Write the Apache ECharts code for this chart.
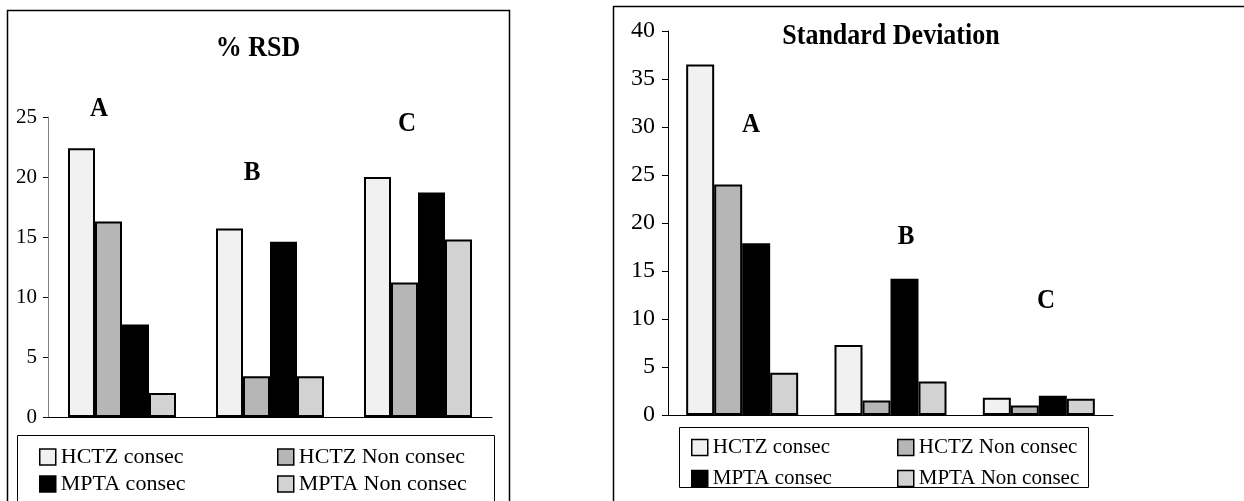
<!DOCTYPE html>
<html>
<head>
<meta charset="utf-8">
<script src="https://cdn.jsdelivr.net/npm/echarts@6/dist/echarts.min.js"></script>
<style>html,body{margin:0;padding:0;background:#fff}#c{width:1244px;height:501px}</style>
</head>
<body>
<div id="c"></div>
<script>
const categories = ['A', 'B', 'C'];
const seriesNames = ['HCTZ consec', 'HCTZ Non consec', 'MPTA consec', 'MPTA Non consec'];
const rsdHCTZConsec = [22.4, 15.7, 20.0];
const rsdHCTZNonConsec = [16.3, 3.4, 11.2];
const rsdMPTAConsec = [7.7, 14.6, 18.7];
const rsdMPTANonConsec = [2.0, 3.4, 14.8];
const sdHCTZConsec = [36.5, 7.3, 1.8];
const sdHCTZNonConsec = [24.0, 1.5, 1.0];
const sdMPTAConsec = [17.9, 14.2, 2.0];
const sdMPTANonConsec = [4.4, 3.5, 1.7];
const rsdTicks = [0, 5, 10, 15, 20, 25];
const sdTicks = [0, 5, 10, 15, 20, 25, 30, 35, 40];

const FONT = '"Liberation Serif", "DejaVu Serif", serif';
const fills = ['#f1f1f1', '#b6b6b6', '#000000', '#d2d2d2'];
const rsdData = [rsdHCTZConsec, rsdHCTZNonConsec, rsdMPTAConsec, rsdMPTANonConsec];
const sdData = [sdHCTZConsec, sdHCTZNonConsec, sdMPTAConsec, sdMPTANonConsec];

const chart = echarts.init(document.getElementById('c'), null, {renderer: 'canvas'});

function mkSeries(dataArr, gi, bw) {
  return dataArr.map((d, i) => ({
    name: seriesNames[i], type: 'bar', xAxisIndex: gi, yAxisIndex: gi,
    data: d, barWidth: bw, barGap: '0%',
    itemStyle: {color: fills[i], borderColor: '#000', borderWidth: 2},
    emphasis: {disabled: true}
  }));
}

function mkLegend(name, left, top, size) {
  return {
    data: [name], left: left, top: top, padding: 0, itemWidth: 16, itemHeight: 16,
    icon: 'rect', selectedMode: false,
    itemStyle: {borderColor: '#000', borderWidth: 1.5},
    textStyle: {fontFamily: FONT, fontSize: size, color: '#000'}
  };
}

function txt(s, x, y, size) {
  return {type: 'text', x: x, y: y, scaleY: 1.12, originX: 0, originY: 0,
    style: {text: s, fontFamily: FONT, fontWeight: 'bold', fontSize: size, fill: '#000', align: 'center', verticalAlign: 'middle'}};
}

const yLabelFmt = (ticks) => (v) => (ticks.indexOf(v) >= 0 ? String(v) : '');

const option = {
  animation: false,
  grid: [
    {left: 48, width: 444, top: 117, height: 300},
    {left: 668, width: 445, top: 31, height: 384}
  ],
  xAxis: [
    {gridIndex: 0, type: 'category', data: categories, axisLabel: {show: false},
     axisLine: {lineStyle: {color: '#000', width: 1}}, axisTick: {length: 7, lineStyle: {color: '#000'}}},
    {gridIndex: 1, type: 'category', data: categories, axisLabel: {show: false},
     axisLine: {lineStyle: {color: '#000', width: 1}}, axisTick: {length: 7, lineStyle: {color: '#000'}}}
  ],
  yAxis: [
    {gridIndex: 0, type: 'value', min: rsdTicks[0], max: rsdTicks[rsdTicks.length - 1], interval: 5,
     splitLine: {show: false}, axisLine: {show: true, lineStyle: {color: '#808080'}},
     axisTick: {show: true, length: 5, lineStyle: {color: '#000'}},
     axisLabel: {fontFamily: FONT, fontSize: 21, color: '#000', margin: 11, formatter: yLabelFmt(rsdTicks)}},
    {gridIndex: 1, type: 'value', min: sdTicks[0], max: sdTicks[sdTicks.length - 1], interval: 5,
     splitLine: {show: false}, axisLine: {show: true, lineStyle: {color: '#000'}},
     axisTick: {show: true, length: 6, lineStyle: {color: '#000'}},
     axisLabel: {fontFamily: FONT, fontSize: 24, color: '#000', margin: 13, formatter: yLabelFmt(sdTicks)}}
  ],
  legend: [
    mkLegend(seriesNames[0], 39, 446, 22),
    mkLegend(seriesNames[1], 277, 446, 22),
    mkLegend(seriesNames[2], 39, 473, 22),
    mkLegend(seriesNames[3], 277, 473, 22),
    mkLegend(seriesNames[0], 691, 437, 21),
    mkLegend(seriesNames[1], 897, 437, 21),
    mkLegend(seriesNames[2], 691, 468, 21),
    mkLegend(seriesNames[3], 897, 468, 21)
  ],
  graphic: [
    {type: 'rect', shape: {x: 7.5, y: 10.5, width: 502, height: 520}, style: {fill: 'none', stroke: '#000', lineWidth: 1.5}, z: -1},
    {type: 'rect', shape: {x: 613.5, y: 6.5, width: 660, height: 520}, style: {fill: 'none', stroke: '#000', lineWidth: 1.5}, z: -1},
    {type: 'rect', shape: {x: 17.5, y: 435.5, width: 477, height: 100}, style: {fill: 'none', stroke: '#000', lineWidth: 1}, z: -1},
    {type: 'rect', shape: {x: 679.5, y: 427.5, width: 409, height: 60}, style: {fill: 'none', stroke: '#000', lineWidth: 1}, z: -1},
    txt('% RSD', 258, 48, 26),
    txt('Standard Deviation', 891, 36, 26),
    txt('A', 99, 109, 25), txt('B', 252, 173, 25), txt('C', 407, 124, 25),
    txt('A', 751, 125, 25), txt('B', 906, 237, 25), txt('C', 1046, 301, 25)
  ],
  series: mkSeries(rsdData, 0, 27).concat(mkSeries(sdData, 1, 28))
};
chart.setOption(option);
</script>
</body>
</html>
